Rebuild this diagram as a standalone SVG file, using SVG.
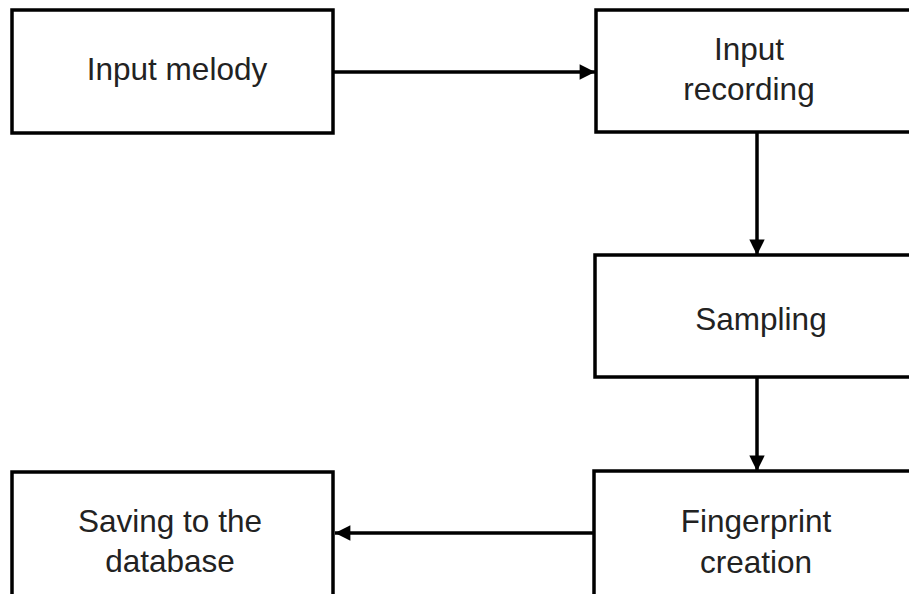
<svg xmlns="http://www.w3.org/2000/svg" width="909" height="594" viewBox="0 0 909 594">
<style>
.box{fill:#fff;stroke:#000;stroke-width:3.5}
.lbl{font-family:"Liberation Sans",Arial,sans-serif;font-size:31.5px;fill:#222;text-anchor:middle}
.conn{stroke:#000;stroke-width:3.5;fill:none}
</style>
<defs>
<marker id="ah" viewBox="0 0 10 10" refX="10" refY="5" markerWidth="5.2" markerHeight="4.4" markerUnits="strokeWidth" orient="auto">
<path d="M0,0 L10,5 L0,10 z" fill="#000"/>
</marker>
</defs>
<rect width="909" height="594" fill="#fff"/>
<g id="connectors">
<line class="conn" x1="333" y1="72" x2="595" y2="72" marker-end="url(#ah)"/>
<line class="conn" x1="757" y1="132" x2="757" y2="255" marker-end="url(#ah)"/>
<line class="conn" x1="757" y1="377" x2="757" y2="471" marker-end="url(#ah)"/>
<line class="conn" x1="594" y1="533" x2="335" y2="533" marker-end="url(#ah)"/>
</g>
<g id="input-melody">
<rect class="box" x="12" y="10" width="321" height="123"/>
<text class="lbl" x="177" y="80">Input melody</text>
</g>
<g id="input-recording">
<rect class="box" x="596" y="10" width="330" height="122"/>
<text class="lbl" x="749" y="60">Input</text>
<text class="lbl" x="749" y="100">recording</text>
</g>
<g id="sampling">
<rect class="box" x="595" y="255" width="330" height="122"/>
<text class="lbl" x="761" y="330">Sampling</text>
</g>
<g id="fingerprint-creation">
<rect class="box" x="594" y="471" width="330" height="130"/>
<text class="lbl" x="756" y="532">Fingerprint</text>
<text class="lbl" x="756" y="573">creation</text>
</g>
<g id="saving">
<rect class="box" x="12" y="472" width="321" height="130"/>
<text class="lbl" x="170" y="532">Saving to the</text>
<text class="lbl" x="170" y="572">database</text>
</g>
</svg>
